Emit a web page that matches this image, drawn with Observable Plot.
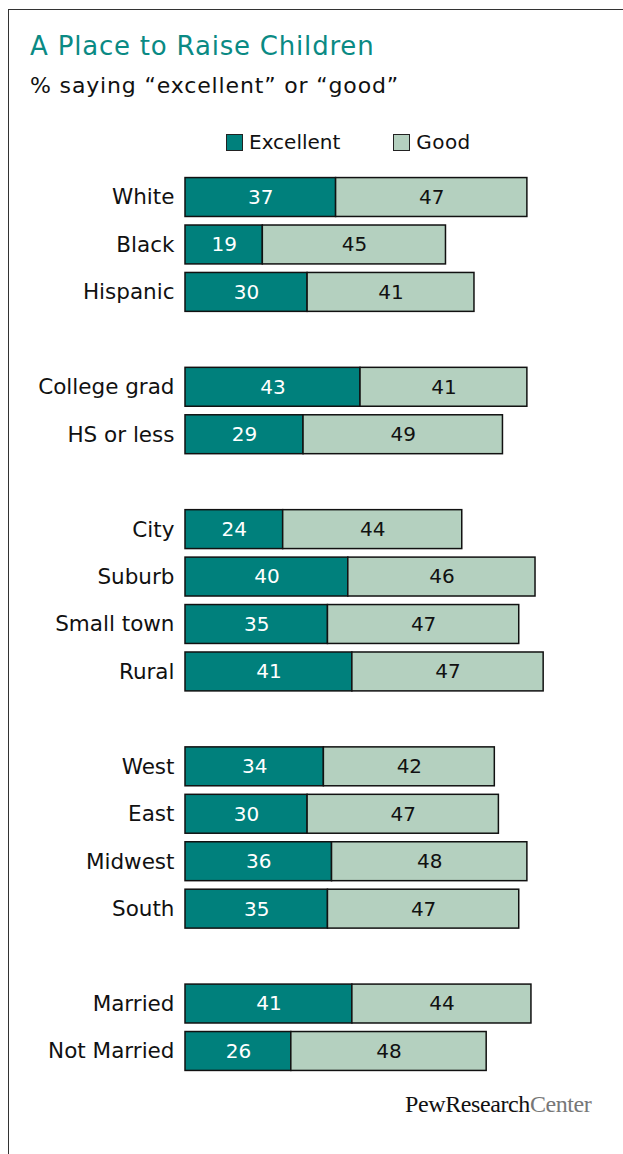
<!DOCTYPE html>
<html><head><meta charset="utf-8">
<script src="https://cdn.jsdelivr.net/npm/d3@7"></script>
<script src="https://cdn.jsdelivr.net/npm/@observablehq/plot@0.6"></script>
<style>
html,body{margin:0;padding:0;background:#fff;overflow:hidden;width:623px;height:1154px;}
body{position:relative;font-family:"DejaVu Sans",sans-serif;}
#frame{position:absolute;left:8px;top:9px;width:800px;height:1300px;border-top:1.5px solid #333;border-left:1.5px solid #333;}
#title{position:absolute;left:30px;top:31px;font-size:26px;letter-spacing:0.8px;color:#0a8a84;white-space:nowrap;}
#sub{position:absolute;left:30px;top:73px;font-size:22px;letter-spacing:0.85px;color:#111;white-space:nowrap;}
#legend{position:absolute;top:130px;left:226px;font-size:20px;color:#111;white-space:nowrap;}
.sw{display:inline-block;width:15px;height:15px;border:1.5px solid #222;vertical-align:-2px;margin-right:6px;}
#chart{position:absolute;left:0;top:160px;}
#footer{position:absolute;left:405px;top:1091px;font-family:"Liberation Serif",serif;font-size:24px;letter-spacing:-0.4px;white-space:nowrap;}
</style></head>
<body>
<div id="frame"></div>
<div id="title">A Place to Raise Children</div>
<div id="sub">% saying “excellent” or “good”</div>
<div id="legend"><span class="sw" style="background:#00807c"></span>Excellent<span style="display:inline-block;width:53px"></span><span class="sw" style="background:#b4d0bf"></span><span style="letter-spacing:0.4px">Good</span></div>
<div id="chart"></div>
<div id="footer"><span style="color:#111">PewResearch</span><span style="color:#777">Center</span></div>
<script>
const categories = ["White","Black","Hispanic"," ","College grad","HS or less","  ","City","Suburb","Small town","Rural","   ","West","East","Midwest","South","    ","Married","Not Married"];
const excellent = [37,19,30,null,43,29,null,24,40,35,41,null,34,30,36,35,null,41,26];
const good = [47,45,41,null,41,49,null,44,46,47,47,null,42,47,48,47,null,44,48];
const seriesNames = ["Excellent","Good"];
const colors = ["#00807c","#b4d0bf"];

const rows = [];
categories.forEach((c,i)=>{
  if (excellent[i]==null) return;
  rows.push({cat:c, series:"Excellent", x1:0, x2:excellent[i], v:excellent[i]});
  rows.push({cat:c, series:"Good", x1:excellent[i], x2:excellent[i]+good[i], v:good[i]});
});

const plot = Plot.plot({
  width:623, height:930,
  marginLeft:185, marginRight:31, marginTop:13.3, marginBottom:15.3,
  x:{domain:[0,100], axis:null},
  y:{domain:categories, paddingInner:0.18, paddingOuter:0.09, round:false, label:null},
  color:{domain:seriesNames, range:colors},
  style:{fontFamily:"DejaVu Sans, sans-serif", fontSize:"20px", color:"#111"},
  marks:[
    Plot.barX(rows,{x1:"x1",x2:"x2",y:"cat",fill:"series",stroke:"#111",strokeWidth:1.5}),
    Plot.text(rows,{x:d=>(d.x1+d.x2)/2,y:"cat",text:d=>String(d.v),fill:d=>d.series==="Excellent"?"#fff":"#111",fontSize:20}),
    Plot.axisY({tickSize:0,tickPadding:11,fontSize:21.5,label:null}),
    Plot.ruleX([0],{y1:categories[0],y2:categories[categories.length-1],stroke:"#333",strokeWidth:1.2, insetTop:-27, insetBottom:-27})
  ]
});
document.getElementById("chart").appendChild(plot);
</script>
</body></html>
